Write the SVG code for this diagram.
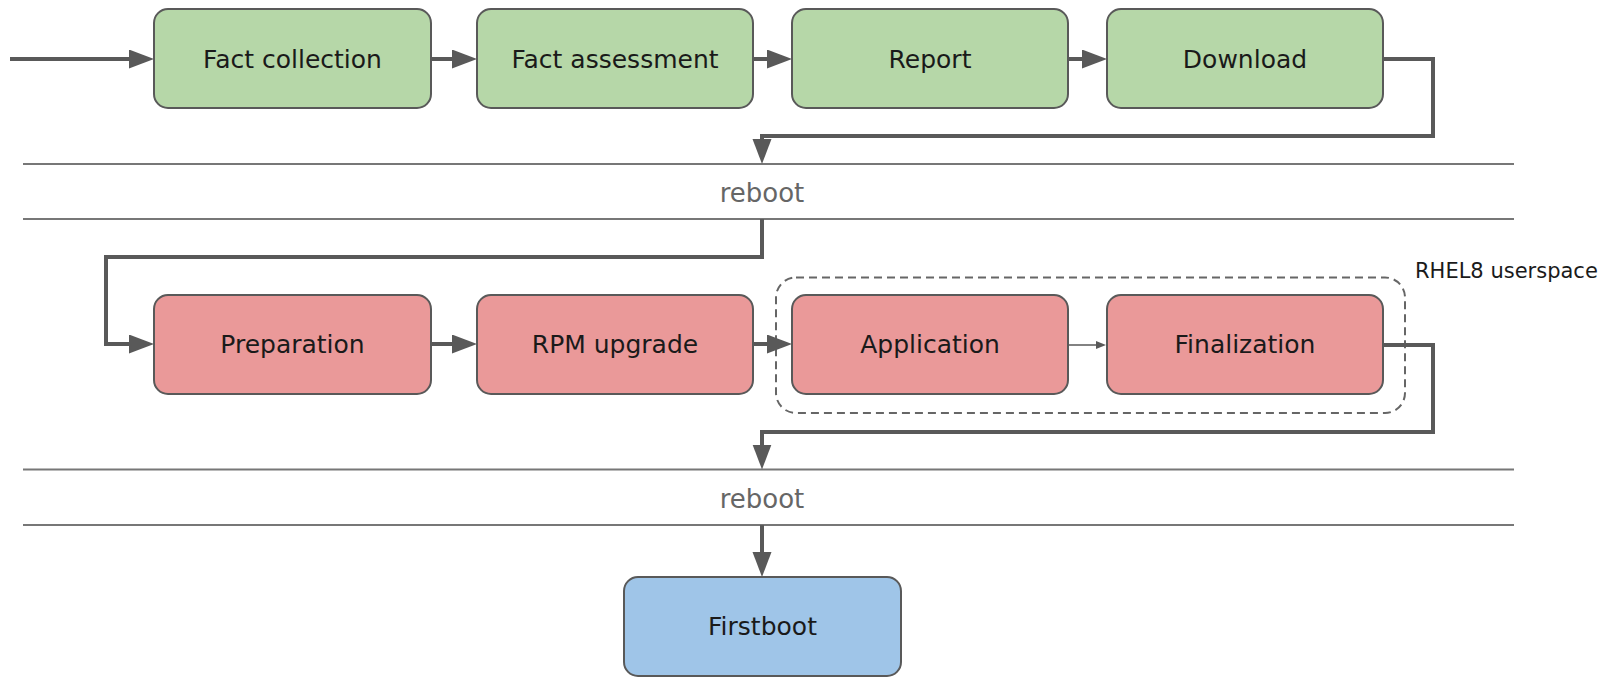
<svg xmlns="http://www.w3.org/2000/svg" width="1608" height="677" viewBox="0 0 1608 677">
<style>
.box{stroke:#595959;stroke-width:2}
.g{fill:#b6d7a8}.r{fill:#ea9999}.b{fill:#9fc5e8}
.lbl{font-family:"DejaVu Sans",sans-serif;font-size:25px;fill:#1a1a1a;text-anchor:middle}
.rb{font-family:"DejaVu Sans",sans-serif;font-size:26px;fill:#666;text-anchor:middle}
.sep{stroke:#777;stroke-width:2}
.con{fill:none;stroke:#595959;stroke-width:4}
.thin{fill:none;stroke:#595959;stroke-width:1.5}
</style>
<defs>
<marker id="ah" markerUnits="userSpaceOnUse" markerWidth="26" markerHeight="20" refX="5" refY="9.5" orient="auto" viewBox="0 0 26 20">
<path d="M0,0 L25,9.5 L0,19 z" fill="#595959"/>
</marker>
<marker id="ahs" markerUnits="userSpaceOnUse" markerWidth="11" markerHeight="8" refX="1" refY="4" orient="auto" viewBox="0 0 11 8">
<path d="M0,0 L10,4 L0,8 z" fill="#595959"/>
</marker>
</defs>
<g id="separators">
<line class="sep" x1="23" y1="164" x2="1514" y2="164"/>
<line class="sep" x1="23" y1="219" x2="1514" y2="219"/>
<text class="rb" x="762" y="202">reboot</text>
<line class="sep" x1="23" y1="469.5" x2="1514" y2="469.5"/>
<line class="sep" x1="23" y1="525" x2="1514" y2="525"/>
<text class="rb" x="762" y="508">reboot</text>
</g>
<g id="rhel8-userspace">
<rect x="776" y="277.5" width="629" height="135.5" rx="20" fill="none" stroke="#666" stroke-width="2" stroke-dasharray="8,5"/>
<text x="1415" y="278" font-family="DejaVu Sans, sans-serif" font-size="21" fill="#1a1a1a">RHEL8 userspace</text>
</g>
<g id="connectors">
<path class="con" d="M10,59 H134" marker-end="url(#ah)"/>
<path class="con" d="M431,59 H457" marker-end="url(#ah)"/>
<path class="con" d="M753,59 H772" marker-end="url(#ah)"/>
<path class="con" d="M1068,59 H1087" marker-end="url(#ah)"/>
<path class="con" d="M1383,59 H1433 V136 H762 V144" marker-end="url(#ah)"/>
<path class="con" d="M762,219 V257 H106 V344 H134" marker-end="url(#ah)"/>
<path class="con" d="M431,344 H457" marker-end="url(#ah)"/>
<path class="con" d="M753,344 H772" marker-end="url(#ah)"/>
<path class="thin" d="M1068,345 H1097" marker-end="url(#ahs)"/>
<path class="con" d="M1383,345 H1433 V432 H762 V449.5" marker-end="url(#ah)"/>
<path class="con" d="M762,525 V557" marker-end="url(#ah)"/>
</g>
<g id="fact-collection"><rect class="box g" x="154" y="9" width="277" height="99" rx="14"/><text class="lbl" x="292.5" y="68">Fact collection</text></g>
<g id="fact-assessment"><rect class="box g" x="477" y="9" width="276" height="99" rx="14"/><text class="lbl" x="615" y="68">Fact assessment</text></g>
<g id="report"><rect class="box g" x="792" y="9" width="276" height="99" rx="14"/><text class="lbl" x="930" y="68">Report</text></g>
<g id="download"><rect class="box g" x="1107" y="9" width="276" height="99" rx="14"/><text class="lbl" x="1245" y="68">Download</text></g>
<g id="preparation"><rect class="box r" x="154" y="295" width="277" height="99" rx="14"/><text class="lbl" x="292.5" y="353">Preparation</text></g>
<g id="rpm-upgrade"><rect class="box r" x="477" y="295" width="276" height="99" rx="14"/><text class="lbl" x="615" y="353">RPM upgrade</text></g>
<g id="application"><rect class="box r" x="792" y="295" width="276" height="99" rx="14"/><text class="lbl" x="930" y="353">Application</text></g>
<g id="finalization"><rect class="box r" x="1107" y="295" width="276" height="99" rx="14"/><text class="lbl" x="1245" y="353">Finalization</text></g>
<g id="firstboot"><rect class="box b" x="624" y="577" width="277" height="99" rx="14"/><text class="lbl" x="762.5" y="635">Firstboot</text></g>
</svg>
